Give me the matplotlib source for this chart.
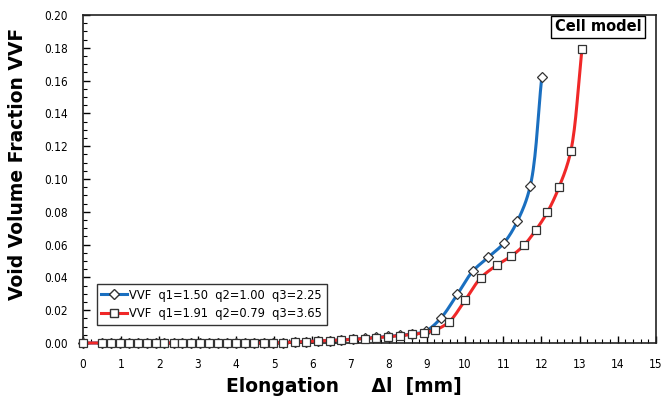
import numpy as np
import matplotlib
matplotlib.use('Agg')
import matplotlib.pyplot as plt
from matplotlib.ticker import MultipleLocator, FormatStrFormatter

# series 1: VVF q1=1.50 q2=1.00 q3=2.25 (blue, diamonds)
x_blue = [0, 0.5, 0.73, 0.97, 1.2, 1.43, 1.67, 1.9, 2.13, 2.37, 2.6, 2.83,
          3.07, 3.3, 3.53, 3.77, 4.0, 4.24, 4.48, 4.73, 4.98, 5.24, 5.54,
          5.85, 6.15, 6.46, 6.76, 7.07, 7.37, 7.68, 7.98, 8.3, 8.62, 8.97,
          9.37, 9.8, 10.2, 10.61, 11.02, 11.37, 11.71, 12.01]
y_blue = [0, 0, 0, 0, 0, 0, 0, 0, 0, 0, 0, 0,
          0, 0, 0, 0, 0, 0, 0, 0, 0.0001, 0.0003, 0.0006,
          0.0009, 0.0012, 0.0015, 0.0019, 0.0023, 0.0028, 0.0034, 0.004, 0.0047, 0.0055, 0.0072,
          0.0152, 0.0297, 0.0437, 0.0523, 0.061, 0.0742, 0.0959, 0.162]

# series 2: VVF q1=1.91 q2=0.79 q3=3.65 (red, squares)
x_red = [0, 0.5, 0.73, 0.97, 1.2, 1.43, 1.67, 1.9, 2.13, 2.37, 2.6, 2.83,
         3.07, 3.3, 3.53, 3.77, 4.0, 4.24, 4.48, 4.73, 4.98, 5.24, 5.54,
         5.85, 6.15, 6.46, 6.76, 7.07, 7.37, 7.68, 7.98, 8.3, 8.62, 8.94,
         9.22, 9.59, 10.0, 10.41, 10.83, 11.2, 11.54, 11.85, 12.16, 12.46,
         12.77, 13.06]
y_red = [0, 0, 0, 0, 0, 0, 0, 0, 0, 0, 0, 0,
         0, 0, 0, 0, 0, 0, 0, 0, 0.0001, 0.0003, 0.0006,
         0.0009, 0.0012, 0.0015, 0.0018, 0.0022, 0.0027, 0.0032, 0.0038, 0.0045, 0.0052, 0.0063,
         0.0079, 0.013, 0.026, 0.0396, 0.0474, 0.0528, 0.0595, 0.0687, 0.0799, 0.0949,
         0.117, 0.179]

labels = ['VVF  q1=1.50  q2=1.00  q3=2.25', 'VVF  q1=1.91  q2=0.79  q3=3.65']


def smooth(x, y, sx=574 / 15, sy=328 / 0.2, n=16, alpha=0.5):
    # centripetal catmull-rom through the points, in screen-like units
    P = np.column_stack([np.asarray(x, float) * sx, np.asarray(y, float) * sy])
    P = np.vstack([2 * P[0] - P[1], P, 2 * P[-1] - P[-2]])
    out = []
    for i in range(1, len(P) - 2):
        p0, p1, p2, p3 = P[i - 1], P[i], P[i + 1], P[i + 2]
        t0 = 0.0
        t1 = t0 + max(np.linalg.norm(p1 - p0), 1e-6) ** alpha
        t2 = t1 + max(np.linalg.norm(p2 - p1), 1e-6) ** alpha
        t3 = t2 + max(np.linalg.norm(p3 - p2), 1e-6) ** alpha
        t = np.linspace(t1, t2, n, endpoint=False)[:, None]
        a1 = (t1 - t) / (t1 - t0) * p0 + (t - t0) / (t1 - t0) * p1
        a2 = (t2 - t) / (t2 - t1) * p1 + (t - t1) / (t2 - t1) * p2
        a3 = (t3 - t) / (t3 - t2) * p2 + (t - t2) / (t3 - t2) * p3
        b1 = (t2 - t) / (t2 - t0) * a1 + (t - t0) / (t2 - t0) * a2
        b2 = (t3 - t) / (t3 - t1) * a2 + (t - t1) / (t3 - t1) * a3
        c = (t2 - t) / (t2 - t1) * b1 + (t - t1) / (t2 - t1) * b2
        out.append(c)
    out.append(P[-2][None, :])
    out = np.vstack(out)
    return out[:, 0] / sx, out[:, 1] / sy


plt.rcParams['font.family'] = ['DejaVu Sans']
plt.rcParams['font.stretch'] = 'condensed'

fig = plt.figure(figsize=(6.62, 4.03), dpi=100)
ax = fig.add_axes([0.1254, 0.1489, 0.8655, 0.8139])

blue = '#1a6fc0'
red = '#f02828'

lx, ly = smooth(x_blue, y_blue)
ax.plot(lx, ly, color=blue, lw=2.2, zorder=2, clip_on=False)
ax.plot(x_blue, y_blue, ls='none', marker='D', ms=5.5, mfc='white', mec='#333333',
        mew=0.9, zorder=3, clip_on=False)
lx, ly = smooth(x_red, y_red)
ax.plot(lx, ly, color=red, lw=2.2, zorder=4, clip_on=False)
ax.plot(x_red, y_red, ls='none', marker='s', ms=6, mfc='white', mec='#333333',
        mew=0.9, zorder=5, clip_on=False)

# legend proxies
h1, = ax.plot([], [], color=blue, lw=2.2, marker='D', ms=5.5, mfc='white', mec='#333333')
h2, = ax.plot([], [], color=red, lw=2.2, marker='s', ms=6, mfc='white', mec='#333333')
leg = ax.legend([h1, h2], labels, loc='lower left', bbox_to_anchor=(0.024, 0.055),
                prop={'size': 9.2, 'stretch': 'condensed'}, frameon=True, fancybox=False,
                edgecolor='black', handlelength=2.0, handletextpad=0.2,
                borderpad=0.35, labelspacing=0.45, borderaxespad=0)
leg.get_frame().set_linewidth(1.0)

ax.text(0.975, 0.987, 'Cell model', transform=ax.transAxes, ha='right', va='top',
        fontsize=10.5, fontweight='bold', fontstretch='normal',
        bbox=dict(boxstyle='square,pad=0.25', fc='white', ec='black', lw=1.0))

ax.set_xlim(0, 15)
ax.set_ylim(0, 0.20)
ax.xaxis.set_major_locator(MultipleLocator(1))
ax.xaxis.set_minor_locator(MultipleLocator(0.2))
ax.yaxis.set_major_locator(MultipleLocator(0.02))
ax.yaxis.set_minor_locator(MultipleLocator(0.005))
ax.yaxis.set_major_formatter(FormatStrFormatter('%.2f'))
ax.tick_params(which='both', direction='in', top=False, right=False, labelsize=8.5)
ax.tick_params(which='major', length=5, width=1)
ax.tick_params(which='minor', length=3, width=0.8)
ax.tick_params(axis='x', pad=11)
ax.tick_params(axis='y', pad=11)

for s in ax.spines.values():
    s.set_linewidth(1.2)
    s.set_color('#222222')

ax.set_xlabel('Elongation     Δl  [mm]', fontsize=13.5, fontweight='bold',
              fontstretch='normal')
ax.set_ylabel('Void Volume Fraction VVF', fontsize=13.5, fontweight='bold',
              fontstretch='normal')
ax.xaxis.set_label_coords(0.455, -0.105)
ax.yaxis.set_label_coords(-0.098, 0.545)

fig.savefig('out.png', dpi=100)
